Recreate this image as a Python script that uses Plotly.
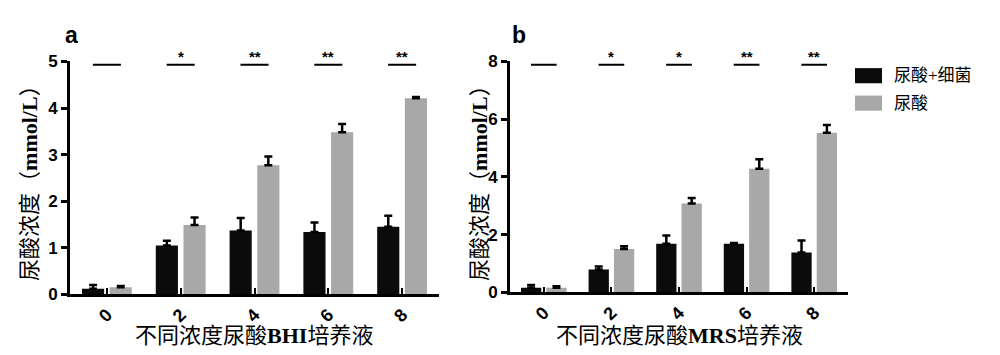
import plotly.graph_objects as go

categories = ["0", "2", "4", "6", "8"]
series_names = ["尿酸+细菌", "尿酸"]

# Panel a (BHI)
a_bact = [0.12, 1.05, 1.37, 1.34, 1.45]
a_bact_err = [0.08, 0.10, 0.27, 0.20, 0.24]
a_uric = [0.15, 1.49, 2.77, 3.48, 4.21]
a_uric_err = [0.03, 0.16, 0.19, 0.18, 0.03]
a_sig = ["", "*", "**", "**", "**"]

# Panel b (MRS)
b_bact = [0.16, 0.79, 1.69, 1.69, 1.38]
b_bact_err = [0.10, 0.11, 0.28, 0.02, 0.42]
b_uric = [0.16, 1.50, 3.08, 4.28, 5.53]
b_uric_err = [0.05, 0.10, 0.19, 0.33, 0.27]
b_sig = ["", "*", "*", "**", "**"]

a_ymax, a_dtick = 5, 1
b_ymax, b_dtick = 8, 2

BLACK = "#0b0b0b"
GRAY = "#a8a8a8"
CJK = "Liberation Serif, Noto Sans CJK SC"
NUM = "Liberation Sans"

fig = go.Figure()

def add_panel(xa, ya, bact, bact_err, uric, uric_err):
    for name, vals, err, col in [(series_names[0], bact, bact_err, BLACK),
                                 (series_names[1], uric, uric_err, GRAY)]:
        fig.add_trace(go.Bar(
            x=categories, y=vals, name=name, marker=dict(color=col, line=dict(width=0)),
            error_y=dict(type="data", array=err, arrayminus=[0] * len(err), symmetric=False,
                         color="black", thickness=2.5, width=4),
            xaxis=xa, yaxis=ya, showlegend=False))

add_panel("x", "y", a_bact, a_bact_err, a_uric, a_uric_err)
add_panel("x2", "y2", b_bact, b_bact_err, b_uric, b_uric_err)

xcommon = dict(type="category", showline=True, linecolor="black", linewidth=2.8,
               ticks="inside", ticklen=6, tickwidth=2, tickcolor="black",
               tickangle=-45, tickfont=dict(family=NUM, size=18, color="black", weight="bold"),
               showgrid=False, zeroline=False, range=[-0.5, 4.5])
ycommon = dict(showline=True, linecolor="black", linewidth=2.8, ticks="outside", ticklen=6,
               tickwidth=2.5, tickcolor="black",
               tickfont=dict(family=NUM, size=17, color="black", weight="bold"),
               showgrid=False, zeroline=False)

fig.update_layout(
    width=1000, height=355, margin=dict(l=0, r=0, t=0, b=0),
    paper_bgcolor="white", plot_bgcolor="white",
    barmode="group", bargap=0.25, bargroupgap=0.2,
    xaxis=dict(domain=[0.062, 0.431], anchor="y", **xcommon),
    xaxis2=dict(domain=[0.502, 0.840], anchor="y2", **xcommon),
    yaxis=dict(domain=[0.1746, 0.8676], anchor="x", range=[0, a_ymax], dtick=a_dtick, **ycommon),
    yaxis2=dict(domain=[0.1803, 0.8676], anchor="x2", range=[0, b_ymax], dtick=b_dtick, **ycommon),
)

# significance lines and stars
for xr, yr, sig, ymax in [("x", "y", a_sig, a_ymax), ("x2", "y2", b_sig, b_ymax)]:
    for i, s in enumerate(sig):
        fig.add_shape(type="line", xref=xr, yref=yr, x0=i - 0.19, x1=i + 0.19,
                      y0=ymax * 0.986, y1=ymax * 0.986, line=dict(color="black", width=2))
        if s:
            fig.add_annotation(x=i, y=ymax * 0.986, xref=xr, yref=yr, text="<b>" + s + "</b>",
                               showarrow=False, yanchor="bottom", xanchor="center", yshift=-2,
                               font=dict(family=NUM, size=15, color="black"))

# panel letters
for txt, x in [("a", 0.063), ("b", 0.511)]:
    fig.add_annotation(x=x, y=1 - 19 / 355, xref="paper", yref="paper", text="<b>" + txt + "</b>",
                       showarrow=False, xanchor="center", yanchor="middle",
                       font=dict(family=NUM, size=23, color="black"))

# y titles
ytitle = "尿酸浓度（<b>mmol/L</b>）"
for x in [0.022, 0.472]:
    fig.add_annotation(x=x, y=0.521, xref="paper", yref="paper", text=ytitle, textangle=-90,
                       showarrow=False, xanchor="center", yanchor="middle",
                       font=dict(family=CJK, size=22, color="black"))

# x titles
for txt, x in [("不同浓度尿酸<b>BHI</b>培养液", 0.246), ("不同浓度尿酸<b>MRS</b>培养液", 0.671)]:
    fig.add_annotation(x=x, y=1 - 337 / 355, xref="paper", yref="paper", text=txt,
                       showarrow=False, xanchor="center", yanchor="middle",
                       font=dict(family=CJK, size=22, color="black"))

# custom legend
for k, (name, col) in enumerate(zip(series_names, [BLACK, GRAY])):
    yc = 1 - (62 + 29 * k) / 355
    fig.add_shape(type="rect", xref="paper", yref="paper", x0=0.847, x1=0.874,
                  y0=yc - 8 / 355, y1=yc + 8 / 355, fillcolor=col, line=dict(width=0))
    fig.add_annotation(x=0.884, y=yc, xref="paper", yref="paper", text=name, xanchor="left",
                       yanchor="middle", showarrow=False,
                       font=dict(family=CJK, size=17, color="black"))

fig.write_html("out.html")
